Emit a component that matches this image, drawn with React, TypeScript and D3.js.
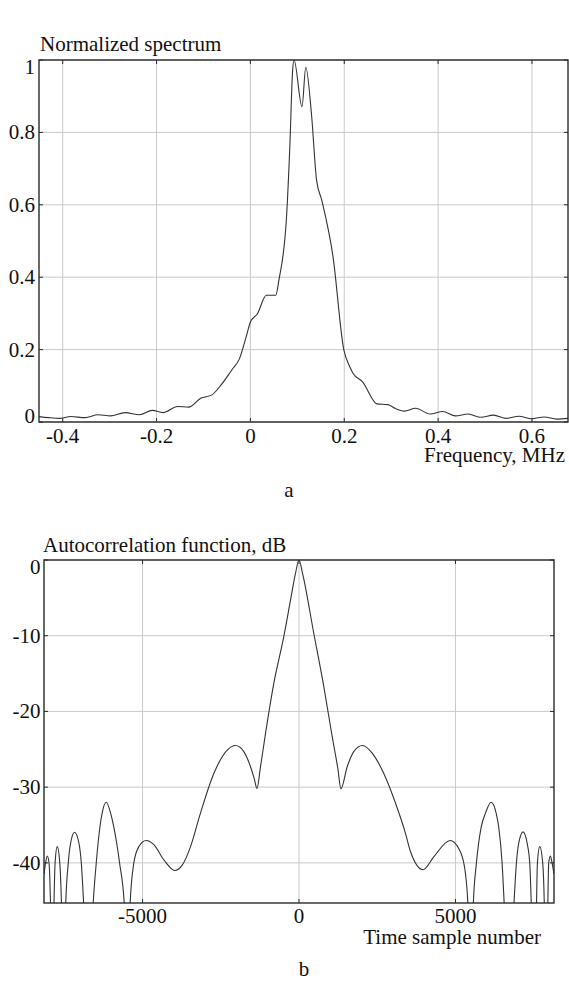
import React from "react";
import * as d3 from "d3";

// ---- Data: panel a (normalized spectrum) ----
const FREQ = [
  -0.451, -0.43, -0.407, -0.383, -0.352, -0.325, -0.298, -0.267, -0.236, -0.209,
  -0.186, -0.155, -0.132, -0.105, -0.082, -0.062, -0.039, -0.024, -0.008, 0.0,
  0.015, 0.034, 0.054, 0.061, 0.077, 0.084, 0.09, 0.093, 0.11, 0.118,
  0.13, 0.141, 0.152, 0.176, 0.199, 0.212, 0.219, 0.239, 0.27, 0.293,
  0.309, 0.328, 0.352, 0.383, 0.41, 0.437, 0.464, 0.491, 0.518, 0.545,
  0.572, 0.599, 0.626, 0.653, 0.677,
];
const SPEC = [
  0.015, 0.012, 0.01, 0.015, 0.012, 0.02, 0.017, 0.026, 0.02, 0.032,
  0.026, 0.043, 0.041, 0.066, 0.075, 0.103, 0.145, 0.173, 0.24, 0.276,
  0.299, 0.35, 0.35, 0.394, 0.567, 0.76, 0.972, 1.0, 0.871, 0.98,
  0.853, 0.668, 0.613, 0.457, 0.2, 0.152, 0.134, 0.111, 0.05, 0.048,
  0.037, 0.03, 0.038, 0.022, 0.029, 0.017, 0.022, 0.013, 0.019, 0.01,
  0.016, 0.009, 0.014, 0.008, 0.01,
];
const FREQ_TICKS = [-0.4, -0.2, 0, 0.2, 0.4, 0.6];
const SPEC_TICKS = [0, 0.2, 0.4, 0.6, 0.8, 1];

// ---- Data: panel b (autocorrelation, dB) ----
const LAG = [
  -8150, -8099, -8045, -7990, -7939, -7885, -7834, -7795, -7727, -7646,
  -7588, -7525, -7460, -7374, -7300, -7173, -7034, -6958, -6875, -6730,
  -6588, -6480, -6364, -6290, -6160, -6023, -5917, -5735, -5575, -5490,
  -5405, -5278, -5118, -4882, -4639, -4319, -3968, -3732, -3466, -3147,
  -2722, -2294, -2029, -1764, -1550, -1422, -1345, -1230, -1070, -805,
  -485, -272, -112, 0, 120, 473, 792, 1060, 1240, 1340,
  1540, 1751, 2030, 2339, 2710, 3083, 3403, 3562, 3968, 4307,
  4830, 5105, 5288, 5405, 5485, 5565, 5671, 5821, 5963, 6140,
  6299, 6384, 6491, 6565, 6714, 6863, 6949, 7023, 7162, 7291,
  7374, 7428, 7508, 7588, 7620, 7694, 7789, 7843, 7896, 7950,
  7981, 8035, 8089, 8150,
];
const ACF = [
  -41.5, -40, -39.1, -40, -46, -60, -46, -40, -37.85, -40,
  -46, -60, -46, -40, -37.4, -35.95, -37.4, -40, -46, -60,
  -46, -40, -35.3, -33.4, -32.0, -33.4, -35.3, -40, -46, -60,
  -46, -40, -37.85, -37.05, -37.6, -39.6, -41.0, -40.3, -37.85, -33.4,
  -28.2, -25.1, -24.5, -25.3, -27.3, -29.0, -30.2, -27.3, -22.9, -16.3,
  -10.1, -5.3, -1.76, 0, -1.9, -9.7, -16.7, -23.3, -27.5, -30.2,
  -27.3, -25.3, -24.5, -25.5, -28.2, -32.1, -36.1, -38.5, -40.9, -39.2,
  -37.05, -38.1, -40.5, -46, -60, -46, -40, -35.3, -33.4, -32.0,
  -33.4, -35.3, -40, -46, -60, -46, -40, -37.4, -35.9, -37.4,
  -40, -46, -60, -46, -40, -37.85, -40, -46, -60, -46,
  -40, -39.1, -40, -41.5,
];
const LAG_TICKS = [-5000, 0, 5000];
const DB_TICKS = [0, -10, -20, -30, -40];

const FONT = "Liberation Serif, Times New Roman, serif";
const FS = 21;
const GRID = "#c9c9c9";
const AXIS = "#2a2a2a";
const LINE = "#333";

type PanelProps = {
  xs: number[];
  ys: number[];
  xDomain: [number, number];
  yDomain: [number, number];
  xTicks: number[];
  yTicks: number[];
  box: { left: number; right: number; top: number; bottom: number };
  title: string;
  titleX: number;
  titleY: number;
  xLabel: string;
  xLabelX: number;
  xLabelY: number;
  xTickBaseline: number;
  yLabelRight: number;
  id: string;
};

function Panel(p: PanelProps) {
  const { left, right, top, bottom } = p.box;
  const x = d3.scaleLinear().domain(p.xDomain).range([left, right]);
  const y = d3.scaleLinear().domain(p.yDomain).range([bottom, top]);
  const pts = p.xs.map((v, i) => [v, p.ys[i]] as [number, number]);
  const line = d3
    .line<[number, number]>()
    .x((d) => x(d[0]))
    .y((d) => y(d[1]))
    .curve(d3.curveMonotoneX);
  const tl = 4;
  return (
    <g>
      <defs>
        <clipPath id={p.id}>
          <rect x={left} y={top - 1} width={right - left} height={bottom - top + 1} />
        </clipPath>
      </defs>
      {p.xTicks.map((t) => (
        <line key={"gx" + t} x1={x(t)} x2={x(t)} y1={top} y2={bottom} stroke={GRID} strokeWidth={1} />
      ))}
      {p.yTicks.map((t) => (
        <line key={"gy" + t} x1={left} x2={right} y1={y(t)} y2={y(t)} stroke={GRID} strokeWidth={1} />
      ))}
      <path d={line(pts) || ""} fill="none" stroke={LINE} strokeWidth={1.1} clipPath={`url(#${p.id})`} />
      <rect x={left} y={top} width={right - left} height={bottom - top} fill="none" stroke={AXIS} strokeWidth={1.4} />
      {p.xTicks.map((t) => (
        <g key={"tx" + t}>
          <line x1={x(t)} x2={x(t)} y1={bottom} y2={bottom - tl} stroke={AXIS} strokeWidth={1} />
          <line x1={x(t)} x2={x(t)} y1={top} y2={top + tl} stroke={AXIS} strokeWidth={1} />
          <text x={x(t)} y={p.xTickBaseline} textAnchor="middle" fontFamily={FONT} fontSize={FS} fill="#111">
            {String(t)}
          </text>
        </g>
      ))}
      {p.yTicks.map((t) => {
        const c = Math.min(Math.max(y(t), top + 7), bottom - 6);
        return (
          <g key={"ty" + t}>
            <line x1={left} x2={left + tl} y1={y(t)} y2={y(t)} stroke={AXIS} strokeWidth={1} />
            <line x1={right} x2={right - tl} y1={y(t)} y2={y(t)} stroke={AXIS} strokeWidth={1} />
            <text x={p.yLabelRight} y={c + 7} textAnchor="end" fontFamily={FONT} fontSize={FS} fill="#111">
              {String(t)}
            </text>
          </g>
        );
      })}
      <text x={p.titleX} y={p.titleY} fontFamily={FONT} fontSize={FS} fill="#111">
        {p.title}
      </text>
      <text x={p.xLabelX} y={p.xLabelY} textAnchor="end" fontFamily={FONT} fontSize={FS} fill="#111">
        {p.xLabel}
      </text>
    </g>
  );
}

export default function App() {
  return (
    <svg
      width={569}
      height={981}
      style={{ position: "absolute", left: 0, top: 0, background: "#fff" }}
    >
      <rect x={0} y={0} width={569} height={981} fill="#fff" />
      <Panel
        id="clipA"
        xs={FREQ}
        ys={SPEC}
        xDomain={[-0.4505, 0.6768]}
        yDomain={[0, 1]}
        xTicks={FREQ_TICKS}
        yTicks={SPEC_TICKS}
        box={{ left: 39, right: 568, top: 60, bottom: 422 }}
        title="Normalized spectrum"
        titleX={40}
        titleY={51}
        xLabel="Frequency, MHz"
        xLabelX={565}
        xLabelY={462}
        xTickBaseline={443}
        yLabelRight={35}
      />
      <text x={289} y={497} textAnchor="middle" fontFamily={FONT} fontSize={FS} fill="#111">
        a
      </text>
      <Panel
        id="clipB"
        xs={LAG}
        ys={ACF}
        xDomain={[-8150, 8150]}
        yDomain={[-45.3, 0]}
        xTicks={LAG_TICKS}
        yTicks={DB_TICKS}
        box={{ left: 44, right: 554, top: 560, bottom: 903 }}
        title="Autocorrelation function, dB"
        titleX={43}
        titleY={552}
        xLabel="Time sample number"
        xLabelX={541}
        xLabelY={944}
        xTickBaseline={923}
        yLabelRight={40.5}
      />
      <text x={304} y={976} textAnchor="middle" fontFamily={FONT} fontSize={FS} fill="#111">
        b
      </text>
    </svg>
  );
}
